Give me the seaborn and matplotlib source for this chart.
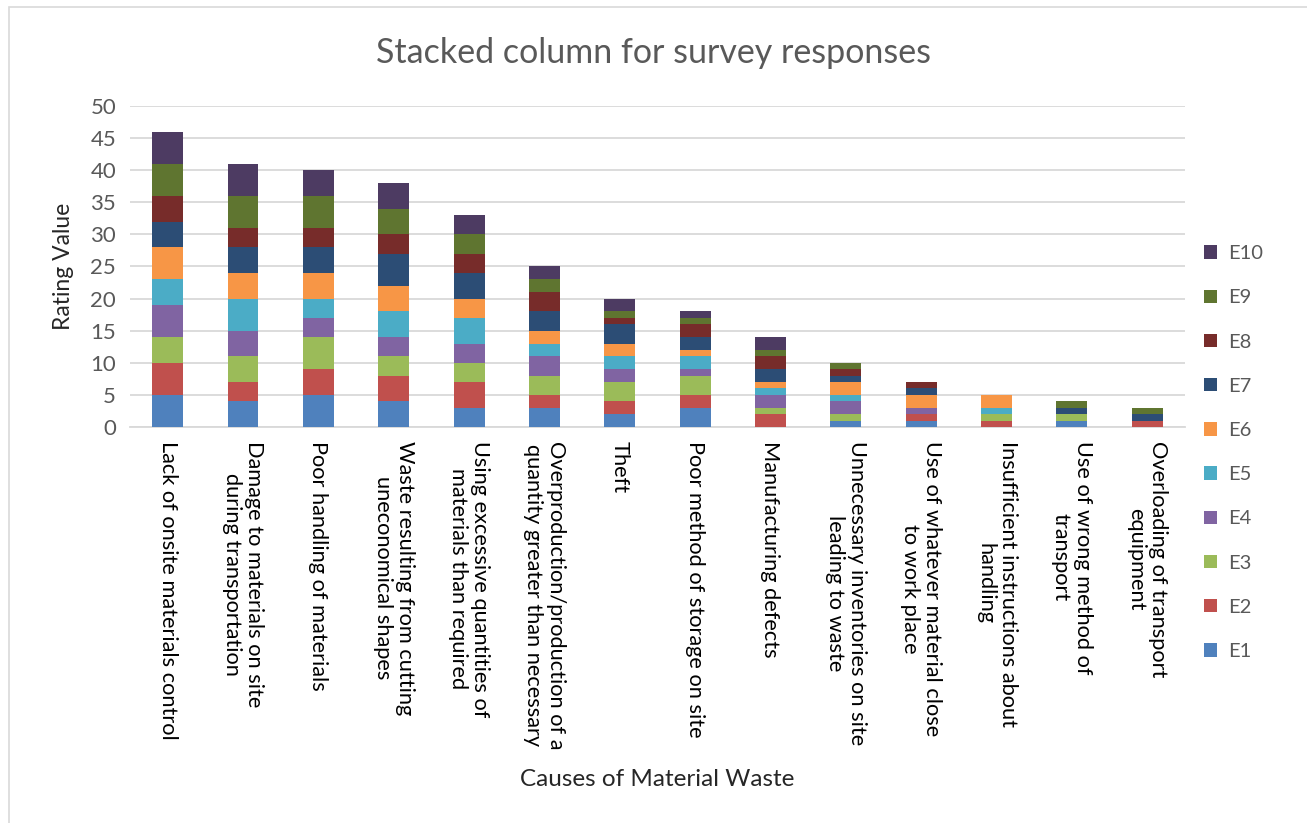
import numpy as np
import pandas as pd
import seaborn as sns
import matplotlib.pyplot as plt
from matplotlib.patches import Rectangle

# causes of material waste (x categories, wrapped as in the chart)
causes = [
    "Lack of onsite materials control",
    "Damage to materials on site\nduring transportation",
    "Poor handling of materials",
    "Waste resulting from cutting\nuneconomical shapes",
    "Using excessive quantities of\nmaterials than required",
    "Overproduction/production of a\nquantity greater than necessary",
    "Theft",
    "Poor method of storage on site",
    "Manufacturing defects",
    "Unnecessary inventories on site\nleading to waste",
    "Use of whatever material close\nto work place",
    "Insufficient instructions about\nhandling",
    "Use of wrong method of\ntransport",
    "Overloading of transport\nequipment",
]

# ratings by expert, one value per cause
E1 = [5, 4, 5, 4, 3, 3, 2, 3, 0, 1, 1, 0, 1, 0]
E2 = [5, 3, 4, 4, 4, 2, 2, 2, 2, 0, 1, 1, 0, 1]
E3 = [4, 4, 5, 3, 3, 3, 3, 3, 1, 1, 0, 1, 1, 0]
E4 = [5, 4, 3, 3, 3, 3, 2, 1, 2, 2, 1, 0, 0, 0]
E5 = [4, 5, 3, 4, 4, 2, 2, 2, 1, 1, 0, 1, 0, 0]
E6 = [5, 4, 4, 4, 3, 2, 2, 1, 1, 2, 2, 2, 0, 0]
E7 = [4, 4, 4, 5, 4, 3, 3, 2, 2, 1, 1, 0, 1, 1]
E8 = [4, 3, 3, 3, 3, 3, 1, 2, 2, 1, 1, 0, 0, 0]
E9 = [5, 5, 5, 4, 3, 2, 1, 1, 1, 1, 0, 0, 1, 1]
E10 = [5, 5, 4, 4, 3, 2, 2, 1, 2, 0, 0, 0, 0, 0]

experts = ["E1", "E2", "E3", "E4", "E5", "E6", "E7", "E8", "E9", "E10"]
ratings = [E1, E2, E3, E4, E5, E6, E7, E8, E9, E10]
colors = ["#4F81BD", "#C0504D", "#9BBB59", "#8064A2", "#4BACC6",
          "#F79646", "#2C4D75", "#772C2A", "#5F7530", "#4D3B62"]

df = pd.DataFrame(dict(zip(experts, ratings)))
df["cause"] = causes
cum = df[experts].cumsum(axis=1)

sns.set_style("white")
plt.rcParams["font.family"] = ["Lato", "DejaVu Sans"]

fig = plt.figure(figsize=(13.07, 8.23), dpi=100)
ax = fig.add_axes([0.0995, 0.4812, 0.807, 0.3900])

# draw stacked columns: tallest cumulative first, smaller ones on top
for name, col in zip(experts[::-1], colors[::-1]):
    sns.barplot(x=df["cause"], y=cum[name], color=col, label=name,
                width=0.41, saturation=1, linewidth=0, ax=ax, zorder=3)

ax.set_ylim(0, 50)
ax.set_yticks(np.arange(0, 51, 5))
ax.set_xlim(-0.5, len(causes) - 0.5)
ax.grid(axis="y", color="#D9D9D9", linewidth=1.3, zorder=0)
ax.set_axisbelow(True)
for s in ["top", "right", "left"]:
    ax.spines[s].set_visible(False)
ax.spines["bottom"].set_color("#D9D9D9")
ax.spines["bottom"].set_linewidth(1.3)
ax.tick_params(axis="both", length=0)
ax.tick_params(axis="y", labelsize=16, labelcolor="#595959", pad=10)
ax.tick_params(axis="x", labelsize=15.7, labelcolor="black", pad=10)
for lbl in ax.get_xticklabels():
    lbl.set_rotation(270)
    lbl.set_multialignment("center")
    lbl.set_ha("center")
    lbl.set_va("top")
    lbl.set_linespacing(1.15)

ax.set_xlabel("Causes of Material Waste", fontsize=17.5, labelpad=14)
ax.set_ylabel("Rating Value", fontsize=16.5, labelpad=12)
fig.suptitle("Stacked column for survey responses", fontsize=24.5,
             color="#595959", y=0.955)

leg = ax.legend(loc="upper left", bbox_to_anchor=(0.907, 0.724),
                bbox_transform=fig.transFigure, frameon=False,
                fontsize=14.5, labelspacing=1.35, handlelength=0.65,
                handleheight=0.65, handletextpad=0.55)
for t in leg.get_texts():
    t.set_color("#595959")

# light chart border
fig.patches.append(Rectangle((9 / 1307, -0.05), 1.1, 1.05 - 7 / 823,
                             transform=fig.transFigure, fill=False,
                             edgecolor="#D9D9D9", linewidth=1.2))

fig.savefig("out.png", dpi=100)
